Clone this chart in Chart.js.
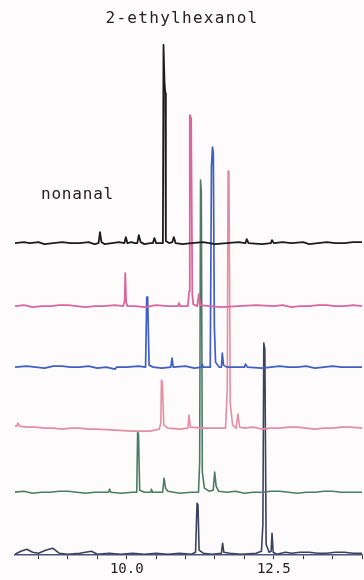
<!DOCTYPE html>
<html>
<head>
<meta charset="utf-8">
<title>GC chromatograms</title>
<script src="https://cdn.jsdelivr.net/npm/chart.js@4/dist/chart.umd.min.js"></script>
<style>
  html, body { margin: 0; padding: 0; background: #fdfbfb; }
  #wrap { position: relative; width: 364px; height: 580px; }
</style>
</head>
<body>
<div id="wrap"><canvas id="gc"></canvas></div>
<script>
// retention time (min) vs detector signal, one array per run, top to bottom
const runBlack = [
    [8.10, 0], [8.25, 1], [8.35, 0], [8.5, 1], [8.6, -1], [8.75, 0], [8.9, 1], [9.05, 0], [9.2, 0],
    [9.35, 1], [9.45, -1], [9.52, 0], [9.545, 11], [9.57, 1],
    [9.62, -1], [9.75, 0], [9.87, 1], [9.96, 0], [9.985, 6], [10.01, 0], [10.08, 1], [10.14, 0],
    [10.18, 0], [10.205, 8], [10.235, 1], [10.30, -1], [10.40, 0], [10.445, 0], [10.47, 5], [10.50, 0],
    [10.60, 0], [10.615, 2], [10.625, 198], [10.632, 198], [10.642, 161], [10.655, 150], [10.665, 2],
    [10.72, 0], [10.775, 1], [10.80, 6], [10.83, 0], [10.95, -1], [11.1, 0], [11.3, 1], [11.5, -1],
    [11.7, 0], [11.9, 1], [12.02, 0], [12.04, 4], [12.07, 0], [12.3, -1], [12.45, 0], [12.47, 3],
    [12.5, 0], [12.65, 1], [12.8, 0], [13.0, 1], [13.1, -1], [13.25, 0], [13.4, 1], [13.55, 0],
    [13.7, 0], [13.85, 1], [14.0, 1]
];
const runPink = [
    [8.10, 0], [8.25, 1], [8.4, -1], [8.55, 0], [8.7, 0], [8.85, 1], [9.0, 1], [9.15, 0], [9.3, -1],
    [9.45, 0], [9.6, 0], [9.8, 1], [9.94, 0], [9.965, 5],
    [9.975, 33], [9.99, 4], [10.01, 0], [10.15, 0], [10.3, -1], [10.5, 1], [10.7, 0], [10.87, 0],
    [10.89, 3], [10.91, 0], [11.04, 0], [11.06, 15], [11.072, 191], [11.095, 188], [11.115, 12],
    [11.13, 2], [11.2, 0], [11.225, 12], [11.25, 1], [11.4, 0], [11.6, -1], [11.9, 0], [12.2, 1],
    [12.5, 0], [12.65, 1], [12.8, -1], [12.95, 0], [13.1, 0], [13.25, 1], [13.4, 1], [13.55, 0],
    [13.7, 0], [13.85, 1], [14.0, 0]
];
const runBlue = [
    [8.10, 0], [8.3, 1], [8.45, 0], [8.6, -1], [8.75, 1], [8.9, 1], [9.05, 0], [9.2, 0], [9.35, 1],
    [9.5, -1], [9.65, 0], [9.80, -2], [9.83, 0],
    [10.0, 0], [10.2, 1], [10.32, 0], [10.34, 70], [10.355, 70], [10.38, 2], [10.45, 0], [10.6, -1],
    [10.75, 0], [10.77, 9], [10.79, 0], [11.0, 1], [11.15, -1], [11.27, 0], [11.28, 3], [11.30, 0],
    [11.42, 0], [11.44, 200], [11.458, 220], [11.472, 214], [11.49, 40], [11.51, 5], [11.57, 0],
    [11.61, 0], [11.625, 14], [11.645, 2], [11.7, 0], [11.85, 0], [12.0, 0], [12.02, 3], [12.05, 0],
    [12.3, -1], [12.45, 0], [12.6, 1], [12.75, 0], [12.9, 0], [13.05, 1], [13.2, -1], [13.35, 0],
    [13.5, 1], [13.65, 0], [13.8, 0], [14.0, 0]
];
const runRose = [
    [8.10, 2], [8.13, 2], [8.15, 5], [8.18, 2], [8.3, 1], [8.45, 1], [8.6, 0], [8.75, 0], [8.9, -1],
    [9.05, 0], [9.2, 0], [9.35, -1], [9.5, -1],
    [9.8, -2], [10.1, -3], [10.4, -3], [10.55, -1], [10.58, 5], [10.59, 48], [10.605, 46], [10.63, 3],
    [10.7, 0], [10.9, -1], [11.04, 0], [11.06, 13], [11.08, 1], [11.3, 0], [11.5, 0], [11.68, 0],
    [11.71, 40], [11.722, 257], [11.738, 254], [11.76, 25], [11.8, 3], [11.86, 0], [11.89, 14],
    [11.92, 1], [12.0, 0], [12.15, 1], [12.3, -1], [12.45, 0], [12.6, 0], [12.75, 1], [12.9, 1],
    [13.05, 0], [13.2, -1], [13.35, 0], [13.5, 0], [13.65, 1], [13.8, 1], [14.0, 0]
];
const runGreen = [
    [8.10, 0], [8.25, 1], [8.4, -1], [8.55, 0], [8.7, 0], [8.85, 1], [9.0, 1], [9.15, 0], [9.3, -1],
    [9.45, 0], [9.55, 0], [9.69, 0], [9.71, 3], [9.73, 0],
    [9.9, -1], [10.1, 0], [10.17, 0], [10.185, 60], [10.2, 58], [10.22, 2], [10.3, 0], [10.41, 0],
    [10.42, 3], [10.44, 0], [10.61, 0], [10.635, 14], [10.66, 4], [10.7, 1], [10.9, -1], [11.1, 0],
    [11.22, 0], [11.24, 30], [11.255, 312], [11.268, 300], [11.285, 20], [11.32, 4], [11.4, 1],
    [11.47, 2], [11.495, 20], [11.52, 6], [11.56, 1], [11.7, 0], [11.85, 1], [12.0, -1], [12.15, 0],
    [12.3, 0], [12.45, 1], [12.6, 1], [12.75, 0], [12.9, -1], [13.05, 0], [13.2, 0], [13.35, 1],
    [13.5, 1], [13.65, 0], [13.8, 0], [14.0, 0]
];
const runSlate = [
    [8.10, 0], [8.2, 3], [8.30, 5], [8.4, 2], [8.5, 1], [8.62, 4], [8.74, 6], [8.85, 1], [9.0, 0],
    [9.2, 1], [9.40, 3], [9.5, 0], [9.7, 1], [9.9, 0], [10.1, 1], [10.3, 0], [10.5, 1], [10.7, 0],
    [10.9, 1], [11.1, 0], [11.17, 2], [11.195, 51], [11.212, 49], [11.23, 4], [11.3, 1], [11.45, 0],
    [11.61, 1], [11.63, 11], [11.65, 2], [11.75, 1], [11.95, 0], [12.2, 1], [12.29, 3], [12.315, 30],
    [12.33, 211], [12.348, 205], [12.37, 10], [12.42, 2], [12.455, 3], [12.47, 21], [12.49, 2],
    [12.55, 0], [12.7, 2], [12.8, 1], [12.95, 2], [13.1, 2], [13.25, 1], [13.4, 1], [13.55, 2],
    [13.7, 2], [13.85, 1], [14.0, 1]
];

const runs = [runBlack, runPink, runBlue, runRose, runGreen, runSlate];
const runNames = ['run 1', 'run 2', 'run 3', 'run 4', 'run 5', 'run 6'];
const labeledTicks = [10.0, 12.5];
const peakLabels = ['2-ethylhexanol', 'nonanal'];

// vertical stacking of the traces and their pen colours
const traceOffsets = [312, 249, 188, 127, 63, 1];
const traceColors = ['#1c1c1c', '#d9669c', '#3f5fc4', '#e58da4', '#4d7a66', '#3d4160'];
const traceWidths = [1.8, 1.8, 1.7, 1.6, 1.6, 1.6];

const datasets = runs.map((pts, i) => ({
    label: runNames[i],
    data: pts.map(p => ({ x: p[0], y: p[1] + traceOffsets[i] })),
    borderColor: traceColors[i],
    borderWidth: traceWidths[i],
    borderJoinStyle: 'round',
    pointRadius: 0,
    tension: 0,
    fill: false
}));

// peak names printed on the chart
const peakText = {
    id: 'peakText',
    afterDraw(chart) {
        const ctx = chart.ctx;
        ctx.save();
        ctx.fillStyle = '#222';
        ctx.font = '16px "DejaVu Sans Mono"';
        ctx.textBaseline = 'middle';
        ctx.letterSpacing = '1.3px';
        ctx.textAlign = 'center';
        ctx.fillText(peakLabels[0], 182, 19);
        ctx.letterSpacing = '0.8px';
        ctx.textAlign = 'left';
        ctx.fillText(peakLabels[1], 41, 195);
        ctx.restore();
    }
};

new Chart(document.getElementById('gc'), {
    type: 'line',
    data: { datasets },
    options: {
        responsive: true,
        maintainAspectRatio: false,
        animation: false,
        layout: { padding: { top: 20, left: 15, right: 0, bottom: 0 } },
        plugins: {
            legend: { display: false },
            tooltip: { enabled: false }
        },
        scales: {
            x: {
                type: 'linear',
                min: 8.1,
                max: 14.0,
                border: { display: true, color: '#4b5680', width: 1.5 },
                grid: {
                    drawOnChartArea: false,
                    drawTicks: true,
                    tickLength: 4,
                    color: '#333'
                },
                ticks: {
                    stepSize: 0.5,
                    includeBounds: false,
                    autoSkip: false,
                    maxRotation: 0,
                    padding: 2,
                    color: '#222',
                    font: { family: 'DejaVu Sans Mono', size: 14 },
                    callback: v => labeledTicks.some(t => Math.abs(t - v) < 1e-6) ? v.toFixed(1) : ''
                }
            },
            y: {
                display: false,
                min: 0,
                max: 535
            }
        }
    },
    plugins: [peakText]
});
</script>
</body>
</html>
